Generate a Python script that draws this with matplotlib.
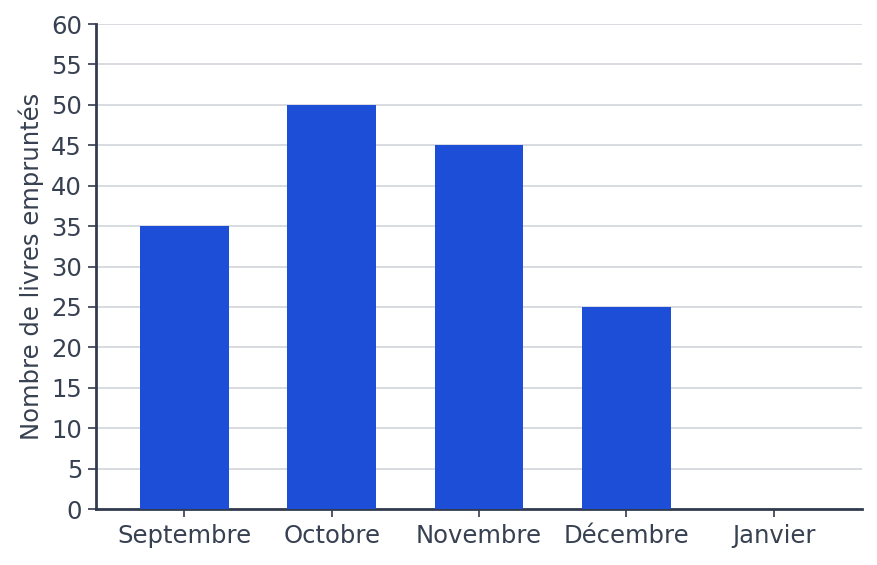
import matplotlib
matplotlib.use("Agg")
import matplotlib.pyplot as plt

mois = ["Septembre", "Octobre", "Novembre", "Décembre", "Janvier"]
livres = [35, 50, 45, 25, 0]
yticks = list(range(0, 61, 5))

text_color = "#374151"
axis_color = "#333b4f"
grid_color = "#d1d5db"
bar_color = "#1d4ed8"

fig = plt.figure(figsize=(8.78, 5.65), dpi=100)
ax = fig.add_axes([0.1093, 0.0991, 0.8725, 0.8584])

x = range(len(mois))
ax.bar(x, livres, width=0.6, color=bar_color, zorder=3)

ax.set_xlim(-0.6, 4.6)
ax.set_ylim(0, 60)
ax.set_xticks(list(x))
ax.set_xticklabels(mois)
ax.set_yticks(yticks)

ax.yaxis.grid(True, color=grid_color, linewidth=1.2, zorder=0)
ax.set_axisbelow(True)

for side in ["top", "right"]:
    ax.spines[side].set_visible(False)
for side in ["left", "bottom"]:
    ax.spines[side].set_color(axis_color)
    ax.spines[side].set_linewidth(2)

ax.tick_params(axis="both", colors=axis_color, labelcolor=text_color,
               labelsize=17.5, length=6, width=1.2)
ax.tick_params(axis="x", pad=5)
ax.tick_params(axis="y", pad=4)
ax.set_ylabel("Nombre de livres empruntés", fontsize=17.5, color=text_color, labelpad=5)

fig.savefig("out.png", dpi=100)
